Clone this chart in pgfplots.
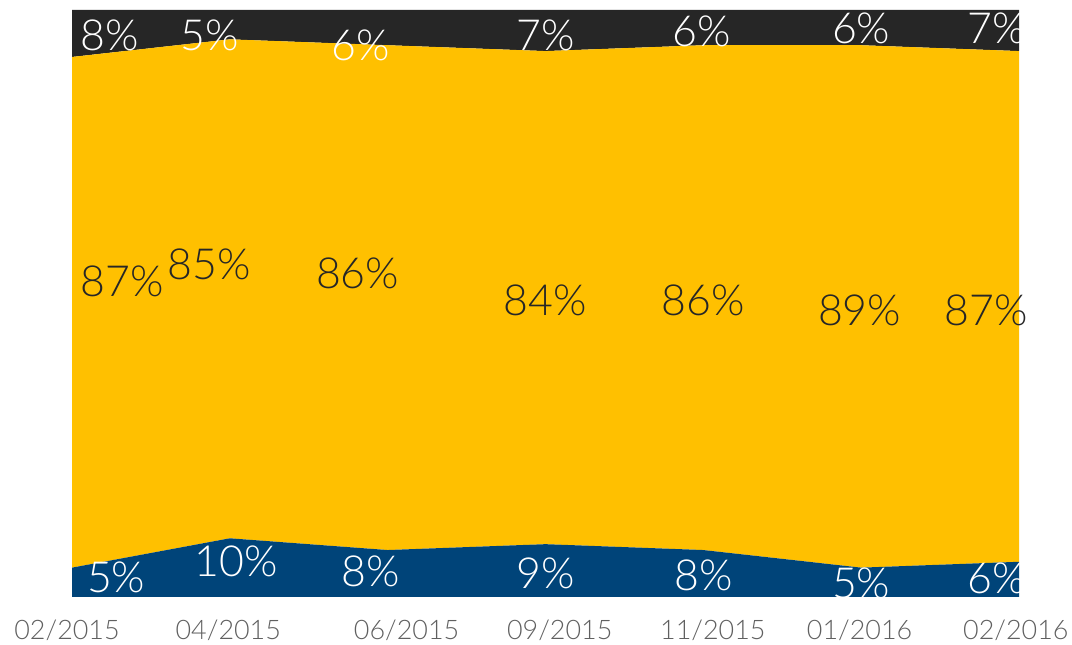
\documentclass[border=0pt]{standalone}
\usepackage{fontspec}
\setmainfont{Lato}
\newfontfamily\lightfont{Lato Light}
\usepackage{pgfplots}
\pgfplotsset{compat=1.18}
\definecolor{cblue}{HTML}{004479}
\definecolor{cyellow}{HTML}{FFC000}
\definecolor{cdark}{HTML}{262626}
\definecolor{cgray}{HTML}{606060}
\begin{document}
\begin{tikzpicture}
\useasboundingbox (0,0) rectangle (1072bp,645bp);
\begin{axis}[
  at={(72bp,48bp)}, anchor=south west,
  width=947bp, height=587bp, scale only axis,
  xmin=0, xmax=6, ymin=0, ymax=100, enlargelimits=false,
  stack plots=y,
  axis line style={draw=none}, tick style={draw=none},
  ytick=\empty,
  xtick={0.99,2.12,3.09,4.06,4.99,5.98},
  xticklabels={04/2015,06/2015,09/2015,11/2015,01/2016,02/2016},
  extra x ticks={0}, extra x tick labels={02/2015},
  extra x tick style={xticklabel style={xshift=-5bp}},
  xticklabel style={font=\lightfont\fontsize{27}{27}\selectfont, text=cgray, anchor=base, yshift=-42bp},
]
\addplot[fill=cblue, draw=none] coordinates {(0,5) (1,10) (2,8) (3,9) (4,8) (5,5) (6,6)} \closedcycle;
\addplot[fill=cyellow, draw=none] coordinates {(0,87) (1,85) (2,86) (3,84) (4,86) (5,89) (6,87)} \closedcycle;
\addplot[fill=cdark, draw=none] coordinates {(0,8) (1,5) (2,6) (3,7) (4,6) (5,6) (6,7)} \closedcycle;
\end{axis}
\begin{axis}[
  at={(72bp,48bp)}, anchor=south west,
  width=947bp, height=587bp, scale only axis,
  xmin=0, xmax=6, ymin=0, ymax=100, enlargelimits=false,
  hide axis, clip=false,
]
\tikzset{lab/.style={font=\lightfont\fontsize{43}{43}\selectfont, inner sep=0pt}}
% top
\node[lab, text=white] at (axis cs:0.24,95.7) {8\%};
\node[lab, text=white] at (axis cs:0.875,95.6) {5\%};
\node[lab, text=white] at (axis cs:1.83,94.0) {6\%};
\node[lab, text=white] at (axis cs:3.0,95.7) {7\%};
\node[lab, text=white] at (axis cs:3.99,96.3) {6\%};
\node[lab, text=white] at (axis cs:5.0,96.8) {6\%};
\node[lab, text=white] at (axis cs:5.86,96.8) {7\%};
% middle
\node[lab, text=cdark] at (axis cs:0.32,53.7) {87\%};
\node[lab, text=cdark] at (axis cs:0.87,56.6) {85\%};
\node[lab, text=cdark] at (axis cs:1.81,55.2) {86\%};
\node[lab, text=cdark] at (axis cs:3.0,50.6) {84\%};
\node[lab, text=cdark] at (axis cs:4.0,50.6) {86\%};
\node[lab, text=cdark] at (axis cs:4.99,48.9) {89\%};
\node[lab, text=cdark] at (axis cs:5.79,48.9) {87\%};
% bottom
\node[lab, text=white] at (axis cs:0.28,3.4) {5\%};
\node[lab, text=white] at (axis cs:1.04,6.1) {10\%};
\node[lab, text=white] at (axis cs:1.89,4.3) {8\%};
\node[lab, text=white] at (axis cs:3.0,4.1) {9\%};
\node[lab, text=white] at (axis cs:4.0,3.7) {8\%};
\node[lab, text=white] at (axis cs:5.0,2.4) {5\%};
\node[lab, text=white] at (axis cs:5.86,3.1) {6\%};
\end{axis}
\end{tikzpicture}
\end{document}
